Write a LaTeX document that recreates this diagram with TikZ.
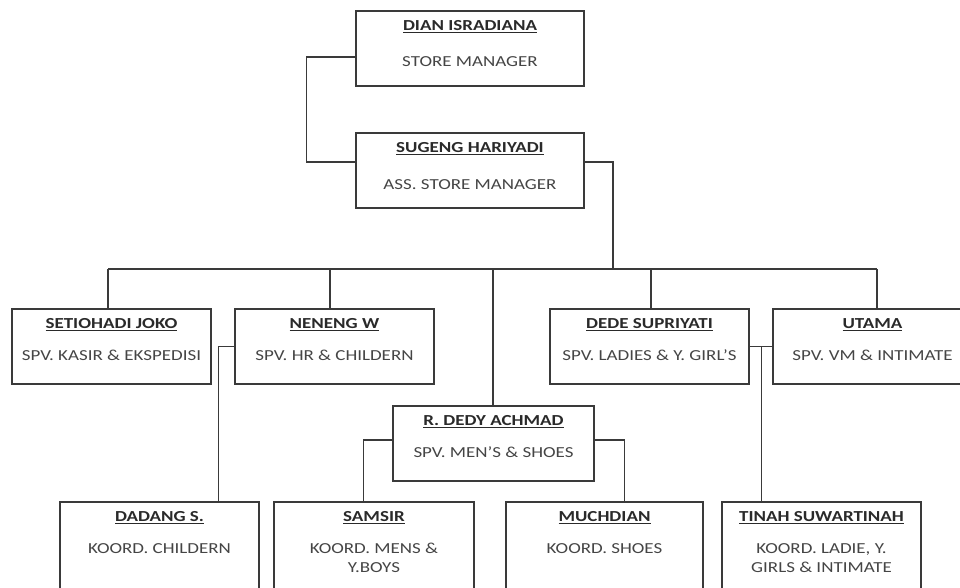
\documentclass[tikz,border=0pt]{standalone}
\usepackage{fontspec}
\setmainfont{Carlito}[FakeStretch=1.24]
\usetikzlibrary{positioning}
\definecolor{linegray}{HTML}{3A3A3A}
\definecolor{titlegray}{HTML}{2A2A2A}
\definecolor{subgray}{HTML}{454545}
\begin{document}
\begin{tikzpicture}[x=1pt,y=-1pt,
  box/.style={draw=linegray, line width=1.2pt, fill=white, minimum height=75pt, inner sep=0pt},
  link/.style={draw=linegray, line width=1.2pt},
  ttl/.style={anchor=base, inner sep=0pt, text=titlegray, font=\fontsize{15.3}{18}\selectfont\bfseries},
  sub/.style={anchor=base, inner sep=0pt, text=subgray, font=\fontsize{15.3}{19}\selectfont, align=center}]
\clip (0,0) rectangle (960,588);
\fill[white] (0,0) rectangle (960,588);

% manager level
\node[box, minimum width=228pt] (dian) at (470,48.5) {};
\node[box, minimum width=228pt] (sugeng) at (470,170.5) {};

% supervisors
\node[box, minimum width=199pt] (setio) at (111.5,346.5) {};
\node[box, minimum width=199pt] (neneng) at (334.5,346.5) {};
\node[box, minimum width=199pt] (dede) at (649.5,346.5) {};
\node[box, minimum width=199pt] (utama) at (872.5,346.5) {};
\node[box, minimum width=201pt] (rdedy) at (493.5,443.5) {};

% coordinators
\node[box, minimum width=199pt, minimum height=110pt] (dadang) at (159.5,557) {};
\node[box, minimum width=200pt, minimum height=110pt] (samsir) at (374,557) {};
\node[box, minimum width=197pt, minimum height=110pt] (much) at (604.5,557) {};
\node[box, minimum width=199pt, minimum height=110pt] (tinah) at (821.5,557) {};

% texts (two-line blocks sit on the baseline of their last line)
\node[ttl] (t1) at ([yshift=-20pt]dian.north) {\underline{DIAN ISRADIANA}};
\node[sub] (s1) at ([yshift=-56pt]dian.north) {STORE MANAGER};
\node[ttl] (t2) at ([yshift=-20pt]sugeng.north) {\underline{SUGENG HARIYADI}};
\node[sub] (s2) at ([yshift=-57pt]sugeng.north) {ASS. STORE MANAGER};
\node[ttl] (t3) at ([yshift=-20pt]setio.north) {\underline{SETIOHADI JOKO}};
\node[sub] (s3) at ([yshift=-52pt]setio.north) {SPV. KASIR \& EKSPEDISI};
\node[ttl] (t4) at ([yshift=-20pt]neneng.north) {\underline{NENENG W}};
\node[sub] (s4) at ([yshift=-52pt]neneng.north) {SPV. HR \& CHILDERN};
\node[ttl] (t5) at ([yshift=-20pt]dede.north) {\underline{DEDE SUPRIYATI}};
\node[sub] (s5) at ([yshift=-52pt]dede.north) {SPV. LADIES \& Y. GIRL’S};
\node[ttl] (t6) at ([yshift=-20pt]utama.north) {\underline{UTAMA}};
\node[sub] (s6) at ([yshift=-52pt]utama.north) {SPV. VM \& INTIMATE};
\node[ttl] (t7) at ([yshift=-20pt]rdedy.north) {\underline{R. DEDY ACHMAD}};
\node[sub] (s7) at ([yshift=-52pt]rdedy.north) {SPV. MEN’S \& SHOES};
\node[ttl] (t8) at ([yshift=-20pt]dadang.north) {\underline{DADANG S.}};
\node[sub] (s8) at ([yshift=-52pt]dadang.north) {KOORD. CHILDERN};
\node[ttl] (t9) at ([yshift=-20pt]samsir.north) {\underline{SAMSIR}};
\node[sub] (s9) at ([yshift=-71pt]samsir.north) {KOORD. MENS \&\\Y.BOYS};
\node[ttl] (t10) at ([yshift=-20pt]much.north) {\underline{MUCHDIAN}};
\node[sub] (s10) at ([yshift=-52pt]much.north) {KOORD. SHOES};
\node[ttl] (t11) at ([yshift=-20pt]tinah.north) {\underline{TINAH SUWARTINAH}};
\node[sub] (s11) at ([yshift=-71pt]tinah.north) {KOORD. LADIE, Y.\\GIRLS \& INTIMATE};

% connectors
\coordinate (bus) at (613,269);
\coordinate (busL) at (108,269);
\coordinate (busR) at (877,269);
\path[link] ([yshift=-8.5pt]dian.west) -- ++(-49,0) |- ([yshift=8.5pt]sugeng.west);
\path[link] ([yshift=8.5pt]sugeng.east) -| (bus);
\path[link] (busL) -- (busR);
\path[link] (busL) -- (busL |- setio.north);
\path[link] ([xshift=-4.5pt]neneng.north |- bus) -- ([xshift=-4.5pt]neneng.north);
\path[link] ([xshift=-0.5pt]rdedy.north |- bus) -- ([xshift=-0.5pt]rdedy.north);
\path[link] ([xshift=1.5pt]dede.north |- bus) -- ([xshift=1.5pt]dede.north);
\path[link] (busR) -- (busR |- utama.north);
\path[link] (neneng.west) -- ++(-16,0) coordinate (kn) -- (kn |- dadang.north);
\path[link] (dede.east) -- (utama.west);
\coordinate (kd) at ([xshift=12pt]dede.east);
\path[link] (kd) -- (kd |- tinah.north);
\path[link] ([yshift=3.5pt]rdedy.west) -- ++(-29,0) coordinate (kr1) -- (kr1 |- samsir.north);
\path[link] ([yshift=3.5pt]rdedy.east) -- ++(30,0) coordinate (kr2) -- (kr2 |- much.north);
\end{tikzpicture}
\end{document}
